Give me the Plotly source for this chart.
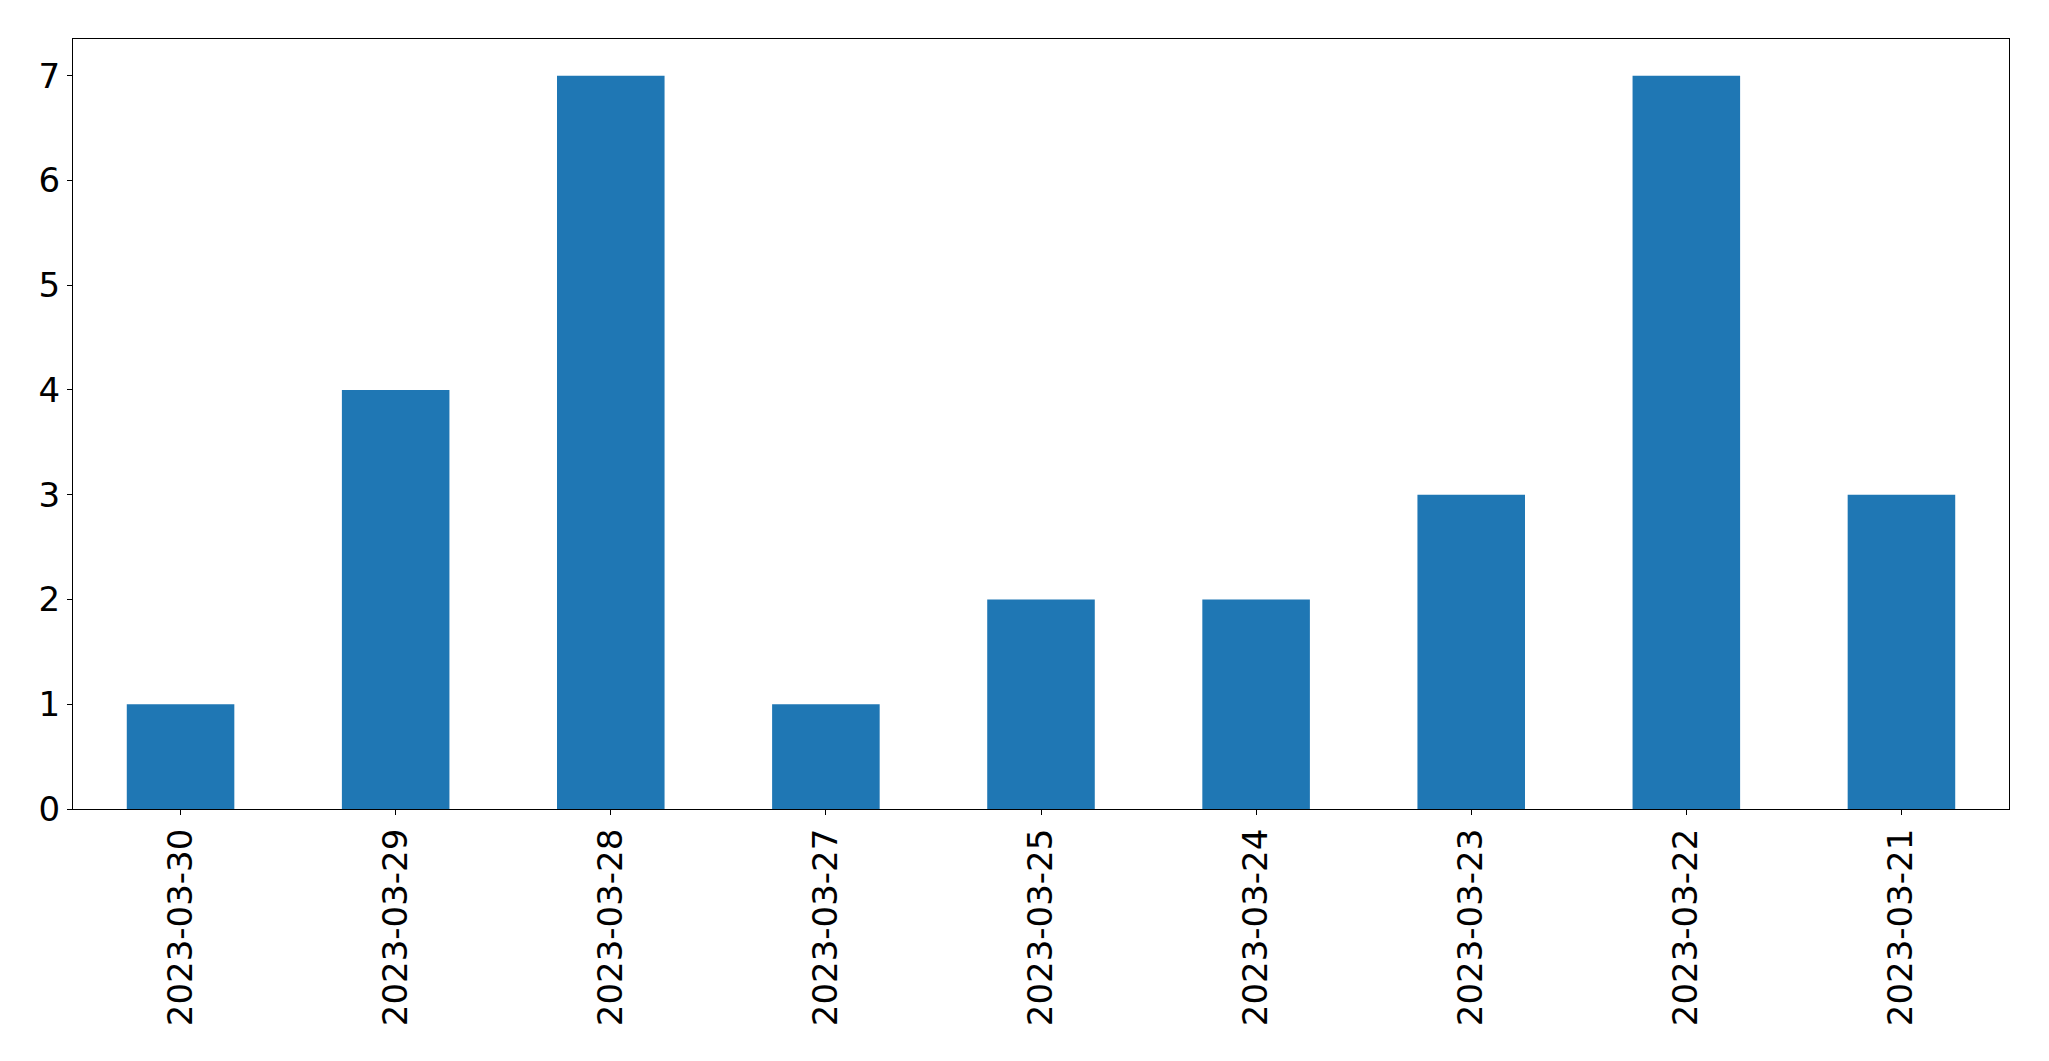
import plotly.graph_objects as go

dates = ["2023-03-30", "2023-03-29", "2023-03-28", "2023-03-27", "2023-03-25",
         "2023-03-24", "2023-03-23", "2023-03-22", "2023-03-21"]
counts = [1, 4, 7, 1, 2, 2, 3, 7, 3]
y_ticks = [0, 1, 2, 3, 4, 5, 6, 7]

fig = go.Figure(go.Bar(x=dates, y=counts, marker=dict(color="#1f77b4", line=dict(width=0))))

fig.update_layout(
    width=2049, height=1061,
    margin=dict(l=65, r=48, t=31, b=260, autoexpand=False),
    paper_bgcolor="white", plot_bgcolor="white",
    font=dict(family="DejaVu Sans", size=34, color="black"),
    bargap=0.5,
    showlegend=False,
)
fig.update_xaxes(
    type="category", range=[-0.5, len(dates) - 0.5],
    tickangle=-90, ticks="outside", ticklen=5, tickwidth=1.1, tickcolor="black",
    showline=True, linecolor="black", linewidth=1.1, mirror=True,
    showgrid=False, zeroline=False,
)
fig.update_yaxes(
    range=[0, 7.35], tickvals=y_ticks,
    ticks="outside", ticklen=5, tickwidth=1.1, tickcolor="black",
    showline=True, linecolor="black", linewidth=1.1, mirror=True,
    showgrid=False, zeroline=False,
)

fig.write_html("out.html")
